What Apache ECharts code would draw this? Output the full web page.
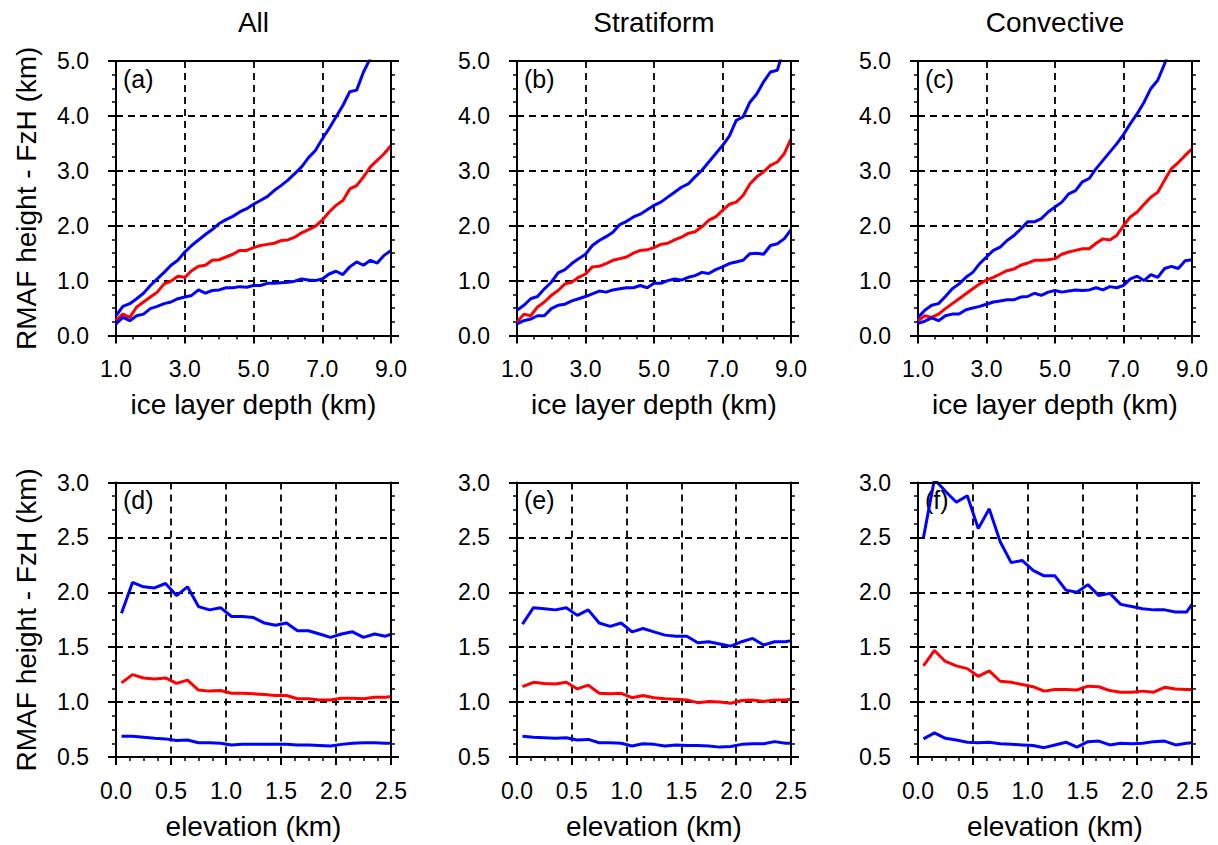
<!DOCTYPE html>
<html>
<head>
<meta charset="utf-8">
<title>RMAF height - FzH</title>
<script src="https://cdn.jsdelivr.net/npm/echarts@6/dist/echarts.min.js"></script>
<style>
  html, body { margin: 0; padding: 0; background: #fff; }
  #visualisation { width: 1218px; height: 845px; }
</style>
</head>
<body>
<div id="visualisation"></div>
<script>
// x-waarden
const depth = [1.0, 1.2, 1.4, 1.6, 1.8, 2.0, 2.2, 2.4, 2.6, 2.8, 3.0, 3.2, 3.4, 3.6, 3.8, 4.0, 4.2, 4.4, 4.6, 4.8,
  5.0, 5.2, 5.4, 5.6, 5.8, 6.0, 6.2, 6.4, 6.6, 6.8, 7.0, 7.2, 7.4, 7.6, 7.8, 8.0, 8.2, 8.4, 8.6, 8.8, 9.0];
const elev = [0.05, 0.15, 0.25, 0.35, 0.45, 0.55, 0.65, 0.75, 0.85, 0.95, 1.05, 1.15, 1.25, 1.35, 1.45,
  1.55, 1.65, 1.75, 1.85, 1.95, 2.05, 2.15, 2.25, 2.35, 2.45, 2.5];

// (a) All
const aHigh = [0.36, 0.53, 0.58, 0.67, 0.77, 0.91, 1.03, 1.15, 1.28, 1.37, 1.52, 1.64, 1.74, 1.84, 1.93, 2.04, 2.11, 2.17, 2.25, 2.31,
  2.39, 2.46, 2.53, 2.64, 2.73, 2.83, 2.95, 3.07, 3.24, 3.37, 3.58, 3.77, 3.98, 4.19, 4.44, 4.47, 4.80, 5.05, null, null, null];
const aMid = [0.27, 0.39, 0.33, 0.52, 0.61, 0.70, 0.79, 0.94, 0.99, 1.08, 1.06, 1.18, 1.26, 1.28, 1.37, 1.38, 1.43, 1.48, 1.55, 1.55,
  1.60, 1.64, 1.66, 1.68, 1.73, 1.74, 1.79, 1.87, 1.93, 1.99, 2.10, 2.25, 2.37, 2.46, 2.67, 2.73, 2.89, 3.07, 3.19, 3.31, 3.46];
const aLow = [0.21, 0.33, 0.27, 0.36, 0.39, 0.49, 0.53, 0.58, 0.61, 0.67, 0.70, 0.73, 0.83, 0.77, 0.82, 0.83, 0.87, 0.87, 0.89, 0.88,
  0.91, 0.91, 0.95, 0.95, 0.96, 0.97, 0.99, 1.03, 1.01, 1.00, 1.03, 1.12, 1.17, 1.11, 1.25, 1.34, 1.28, 1.37, 1.32, 1.46, 1.55];

// (b) Stratiform
const bHigh = [0.46, 0.55, 0.67, 0.71, 0.85, 0.97, 1.14, 1.20, 1.31, 1.40, 1.48, 1.64, 1.73, 1.80, 1.88, 2.02, 2.08, 2.16, 2.21, 2.29,
  2.37, 2.43, 2.52, 2.61, 2.70, 2.76, 2.89, 3.01, 3.16, 3.31, 3.46, 3.63, 3.92, 3.98, 4.25, 4.40, 4.62, 4.80, 4.83, 5.25, null];
const bMid = [0.24, 0.39, 0.36, 0.52, 0.61, 0.73, 0.82, 0.94, 0.97, 1.06, 1.12, 1.25, 1.26, 1.31, 1.37, 1.40, 1.43, 1.50, 1.55, 1.56,
  1.60, 1.66, 1.68, 1.74, 1.79, 1.86, 1.89, 1.98, 2.10, 2.16, 2.28, 2.39, 2.43, 2.55, 2.76, 2.89, 2.98, 3.10, 3.16, 3.31, 3.58];
const bLow = [0.21, 0.27, 0.30, 0.36, 0.36, 0.49, 0.55, 0.57, 0.63, 0.67, 0.71, 0.76, 0.81, 0.79, 0.83, 0.85, 0.87, 0.87, 0.91, 0.87,
  0.95, 0.95, 1.00, 1.03, 1.01, 1.06, 1.09, 1.15, 1.13, 1.20, 1.25, 1.31, 1.34, 1.37, 1.49, 1.50, 1.48, 1.64, 1.67, 1.76, 1.93];

// (c) Convective
const cHigh = [0.33, 0.46, 0.55, 0.58, 0.71, 0.85, 0.94, 1.06, 1.15, 1.31, 1.43, 1.55, 1.61, 1.73, 1.82, 1.94, 2.07, 2.07, 2.13, 2.25,
  2.34, 2.43, 2.58, 2.64, 2.80, 2.86, 3.04, 3.19, 3.34, 3.49, 3.66, 3.86, 4.04, 4.25, 4.50, 4.65, 4.95, 5.30, null, null, null];
const cMid = [0.27, 0.36, 0.33, 0.39, 0.49, 0.58, 0.67, 0.76, 0.85, 0.94, 1.01, 1.06, 1.12, 1.18, 1.21, 1.28, 1.32, 1.37, 1.37, 1.38,
  1.40, 1.48, 1.52, 1.55, 1.58, 1.58, 1.68, 1.76, 1.74, 1.82, 2.00, 2.16, 2.25, 2.39, 2.52, 2.61, 2.83, 3.04, 3.15, 3.28, 3.40];
const cLow = [0.22, 0.26, 0.32, 0.27, 0.36, 0.39, 0.39, 0.47, 0.50, 0.53, 0.57, 0.61, 0.63, 0.65, 0.65, 0.70, 0.71, 0.77, 0.73, 0.79,
  0.82, 0.79, 0.81, 0.83, 0.82, 0.83, 0.87, 0.83, 0.89, 0.87, 0.91, 1.03, 1.08, 1.00, 1.11, 1.06, 1.22, 1.26, 1.22, 1.36, 1.38];

// (d) All, naar hoogte
const dHigh = [1.81, 2.09, 2.05, 2.04, 2.08, 1.97, 2.05, 1.87, 1.84, 1.86, 1.78, 1.78, 1.77, 1.72, 1.70, 1.72, 1.65, 1.65, 1.62, 1.59, 1.62, 1.64, 1.59, 1.62, 1.60, 1.62];
const dMid = [1.175, 1.25, 1.22, 1.21, 1.22, 1.17, 1.20, 1.11, 1.10, 1.105, 1.08, 1.08, 1.075, 1.07, 1.06, 1.06, 1.03, 1.03, 1.02, 1.02, 1.035, 1.035, 1.03, 1.045, 1.045, 1.05];
const dLow = [0.69, 0.69, 0.68, 0.67, 0.665, 0.65, 0.655, 0.63, 0.63, 0.625, 0.61, 0.615, 0.615, 0.615, 0.615, 0.615, 0.61, 0.61, 0.605, 0.60, 0.615, 0.625, 0.63, 0.63, 0.625, 0.625];

// (e) Stratiform
const eHigh = [1.71, 1.86, 1.85, 1.84, 1.86, 1.79, 1.84, 1.72, 1.69, 1.72, 1.64, 1.67, 1.64, 1.61, 1.60, 1.60, 1.54, 1.55, 1.53, 1.51, 1.55, 1.58, 1.52, 1.55, 1.55, 1.56];
const eMid = [1.14, 1.18, 1.17, 1.165, 1.18, 1.12, 1.155, 1.08, 1.075, 1.08, 1.04, 1.06, 1.04, 1.03, 1.025, 1.02, 0.995, 1.005, 1.0, 0.99, 1.015, 1.02, 1.005, 1.02, 1.02, 1.025];
const eLow = [0.69, 0.68, 0.675, 0.67, 0.675, 0.655, 0.66, 0.63, 0.63, 0.625, 0.60, 0.62, 0.615, 0.60, 0.61, 0.605, 0.605, 0.60, 0.59, 0.595, 0.615, 0.62, 0.62, 0.64, 0.625, 0.625];

// (f) Convective
const fHigh = [2.50, 3.03, 2.92, 2.82, 2.88, 2.58, 2.76, 2.46, 2.27, 2.29, 2.20, 2.15, 2.15, 2.02, 2.00, 2.07, 1.97, 1.99, 1.89, 1.87, 1.85, 1.84, 1.84, 1.82, 1.82, 1.89];
const fMid = [1.33, 1.47, 1.37, 1.33, 1.305, 1.235, 1.285, 1.19, 1.18, 1.16, 1.14, 1.10, 1.115, 1.115, 1.11, 1.145, 1.14, 1.105, 1.09, 1.09, 1.10, 1.09, 1.135, 1.12, 1.115, 1.115];
const fLow = [0.665, 0.72, 0.67, 0.655, 0.635, 0.63, 0.635, 0.62, 0.615, 0.61, 0.605, 0.585, 0.61, 0.635, 0.59, 0.64, 0.645, 0.61, 0.625, 0.62, 0.625, 0.64, 0.645, 0.61, 0.625, 0.63];

const columnTitles = ['All', 'Stratiform', 'Convective'];
const panelLabels = ['(a)', '(b)', '(c)', '(d)', '(e)', '(f)'];
const yTitle = 'RMAF height - FzH (km)';
const xTitleTop = 'ice layer depth (km)';
const xTitleBottom = 'elevation (km)';

function drawVisualisation() {
  let visualisation = echarts.init(document.getElementById('visualisation'), null, { renderer: 'svg' });

  const font = 'Liberation Sans, Arial, Helvetica, sans-serif';
  const lefts = [116, 517, 918];
  const widths = [275, 274, 274];
  const tops = [61, 482.5];
  const height = 274.5;

  const panels = [
    { row: 0, col: 0, x: depth, lines: [aHigh, aMid, aLow] },
    { row: 0, col: 1, x: depth, lines: [bHigh, bMid, bLow] },
    { row: 0, col: 2, x: depth, lines: [cHigh, cMid, cLow] },
    { row: 1, col: 0, x: elev, lines: [dHigh, dMid, dLow] },
    { row: 1, col: 1, x: elev, lines: [eHigh, eMid, eLow] },
    { row: 1, col: 2, x: elev, lines: [fHigh, fMid, fLow] }
  ];
  const colors = ['#0000ff', '#ff0000', '#0000ff'];

  let grid = [], xAxis = [], yAxis = [], series = [], graphic = [];
  const line = { color: '#000', width: 2 };
  const label = { fontSize: 23, color: '#000', fontFamily: font, formatter: v => v.toFixed(1) };
  const dashed = { show: true, showMinLine: false, showMaxLine: false, lineStyle: { color: '#000', width: 1.8, type: [7, 5] } };
  const nameStyle = { fontSize: 28, color: '#000', fontFamily: font };

  panels.forEach((p, i) => {
    const top = p.row === 0;
    grid.push({ left: lefts[p.col], top: tops[p.row], width: widths[p.col], height: height });

    const xr = top ? { min: 1, max: 9, interval: 2 } : { min: 0, max: 2.5, interval: 0.5 };
    const yr = top ? { min: 0, max: 5, interval: 1 } : { min: 0.5, max: 3, interval: 0.5 };

    xAxis.push(Object.assign({
      type: 'value', gridIndex: i, position: 'bottom',
      axisLine: { show: true, onZero: false, lineStyle: line },
      axisTick: { show: true, length: 8, lineStyle: line },
      minorTick: { show: true, splitNumber: 4, length: 4, lineStyle: { color: '#000', width: 1.5 } },
      axisLabel: Object.assign({ margin: 22, showMinLabel: true, showMaxLabel: true }, label),
      splitLine: dashed,
      name: top ? xTitleTop : xTitleBottom, nameLocation: 'middle', nameGap: 55, nameTextStyle: nameStyle
    }, xr));
    xAxis.push(Object.assign({
      type: 'value', gridIndex: i, position: 'top', z: 3,
      axisLine: { show: true, onZero: false, lineStyle: line },
      axisTick: { show: false }, axisLabel: { show: false }, splitLine: { show: false }
    }, xr));

    yAxis.push(Object.assign({
      type: 'value', gridIndex: i, position: 'left',
      axisLine: { show: true, onZero: false, lineStyle: line },
      axisTick: { show: true, length: 8, lineStyle: line },
      minorTick: { show: true, splitNumber: 4, length: 4, lineStyle: { color: '#000', width: 1.5 } },
      axisLabel: Object.assign({ margin: 27, showMinLabel: true, showMaxLabel: true }, label),
      splitLine: dashed,
      name: p.col === 0 ? yTitle : '', nameLocation: 'middle', nameGap: 76, nameRotate: 90, nameTextStyle: nameStyle
    }, yr));
    yAxis.push(Object.assign({
      type: 'value', gridIndex: i, position: 'right', z: 3,
      axisLine: { show: true, onZero: false, lineStyle: line },
      axisTick: { show: true, length: 8, lineStyle: line },
      minorTick: { show: true, splitNumber: 4, length: 4, lineStyle: { color: '#000', width: 1.5 } },
      axisLabel: { show: false }, splitLine: { show: false }
    }, yr));

    p.lines.forEach((vals, k) => {
      series.push({
        type: 'line', xAxisIndex: 2 * i, yAxisIndex: 2 * i,
        data: vals.map((v, j) => [p.x[j], v]),
        showSymbol: false, symbol: 'none', clip: true, connectNulls: false,
        lineStyle: { color: colors[k], width: 3 }, itemStyle: { color: colors[k] },
        z: 2
      });
    });

    graphic.push({
      type: 'text', x: lefts[p.col] + 7, y: tops[p.row] + 5, z: 1,
      style: { text: panelLabels[i], font: '25px ' + font, fill: '#000', textVerticalAlign: 'top' }
    });
  });

  columnTitles.forEach((t, c) => {
    graphic.push({
      type: 'text', x: lefts[c] + widths[c] / 2, y: 8,
      style: { text: t, font: '28px ' + font, fill: '#000', textAlign: 'center', textVerticalAlign: 'top' }
    });
  });

  let option = {
    animation: false,
    backgroundColor: '#fff',
    grid: grid,
    xAxis: xAxis,
    yAxis: yAxis,
    series: series,
    graphic: graphic
  };
  visualisation.setOption(option);
}

window.addEventListener('load', drawVisualisation);
</script>
</body>
</html>
